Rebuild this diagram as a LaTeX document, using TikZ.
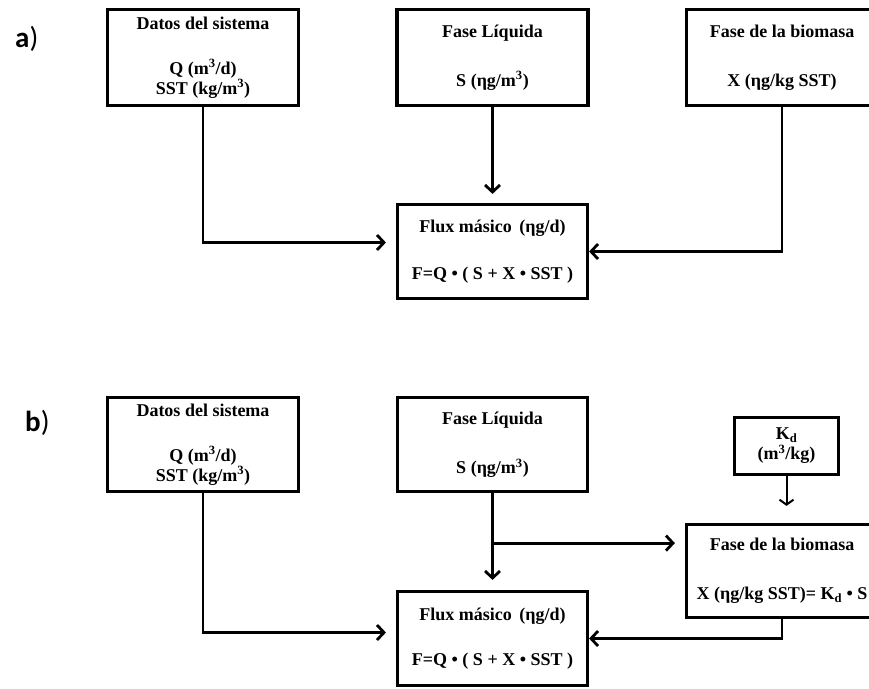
\documentclass[tikz,border=0pt]{standalone}
\usepackage{fontspec}
\setmainfont{Liberation Serif}
\newfontfamily\tagfont{Carlito}
\usetikzlibrary{arrows.meta}
\begin{document}
\begin{tikzpicture}[x=1pt,y=-1pt,
  box/.style={draw, line width=3.2pt, rectangle, inner sep=0pt, align=center,
    font=\fontsize{18}{20}\selectfont\bfseries},
  wide/.style={minimum width=191pt, minimum height=96pt},
  flow/.style={line width=2.8pt, -{Straight Barb[length=7pt,width=15pt]}},
  thinflow/.style={line width=2pt, -{Straight Barb[length=5pt,width=14pt]}},
  tag/.style={anchor=base west, inner sep=0pt, font=\fontsize{29}{30}\selectfont\tagfont}
]
\useasboundingbox (0,0) rectangle (869,688);
\clip (0,0) rectangle (869,688);

% ---------- a) ----------
\node[tag] (taga) at (15,47) {{\bfseries a})};

\node[box, wide] (datosA) at (203,57.5)
  {Datos del sistema\\[25pt] Q (m\textsuperscript{3}/d)\\ SST (kg/m\textsuperscript{3})};
\node[box, wide] (liqA) at (492.5,57.5)
  {Fase Líquida\\[29pt] S (ηg/m\textsuperscript{3})};
\node[box, wide] (bioA) at (782,57.5)
  {Fase de la biomasa\\[29pt] X (ηg/kg SST)};
\node[box, minimum width=190pt, minimum height=94pt] (fluxA) at (492.5,251.5)
  {Flux másico \,(ηg/d)\\[27pt] F=Q • ( S + X • SST )};

\draw[flow, shorten >=10pt] (datosA.south) |- ([yshift=9pt]fluxA.west);
\draw[flow, shorten >=9pt] (liqA.south) -- (fluxA.north);
\draw[flow] (bioA.south) |- (fluxA.east);

% ---------- b) ----------
\node[tag] (tagb) at (25,431) {{\bfseries b})};

\node[box, minimum width=191pt, minimum height=94pt] (datosB) at (203,444.5)
  {Datos del sistema\\[25pt] Q (m\textsuperscript{3}/d)\\ SST (kg/m\textsuperscript{3})};
\node[box, minimum width=190pt, minimum height=94pt] (liqB) at (492.5,444.5)
  {Fase Líquida\\[29pt] S (ηg/m\textsuperscript{3})};
\node[box, minimum width=104pt, minimum height=57pt] (kd) at (786.5,446)
  {K\textsubscript{d}\\ (m\textsuperscript{3}/kg)};
\node[box, minimum width=191pt, minimum height=93pt] (bioB) at (782,571)
  {Fase de la biomasa\\[29pt] X (ηg/kg SST)= K\textsubscript{d} • S};
\node[box, minimum width=190pt, minimum height=94pt] (fluxB) at (492.5,638.5)
  {Flux másico \,(ηg/d)\\[25pt] F=Q • ( S + X • SST )};

\coordinate (split) at ([yshift=-50pt]liqB.south);
\draw[flow, shorten >=10pt] (datosB.south) |- ([yshift=6pt]fluxB.west);
\draw[flow, shorten >=10pt] (liqB.south) -- (fluxB.north);
\draw[flow, shorten >=10pt] (split) -- (split -| bioB.west);
\draw[thinflow, shorten >=17pt] (kd.south) -- (kd.south |- bioB.north);
\draw[flow] (bioB.south) |- (fluxB.east);
\end{tikzpicture}
\end{document}
